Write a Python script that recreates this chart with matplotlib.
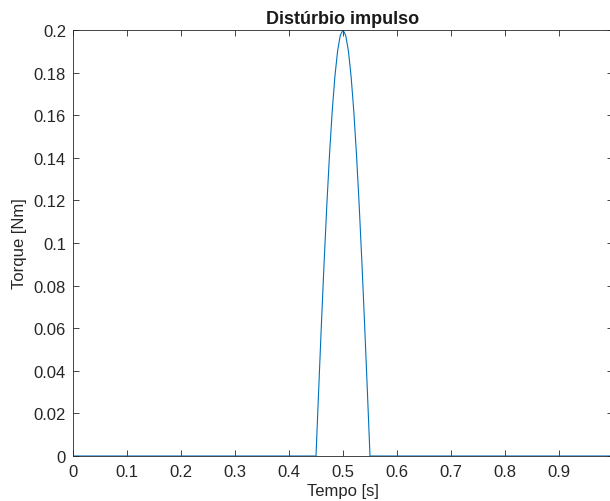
import matplotlib.pyplot as plt

# pulse disturbance (half-sine between 0.45 and 0.55 s)
tempo = [0.0, 0.45, 0.455, 0.46, 0.465, 0.47, 0.475, 0.48, 0.485, 0.49, 0.495, 0.5,
         0.505, 0.51, 0.515, 0.52, 0.525, 0.53, 0.535, 0.54, 0.545, 0.55, 1.0]
torque = [0.0, 0.0, 0.0313, 0.0618, 0.0908, 0.1176, 0.1414, 0.1618, 0.1782, 0.1902, 0.1975, 0.2,
          0.1975, 0.1902, 0.1782, 0.1618, 0.1414, 0.1176, 0.0908, 0.0618, 0.0313, 0.0, 0.0]

x_ticks = [0, 0.1, 0.2, 0.3, 0.4, 0.5, 0.6, 0.7, 0.8, 0.9]
y_ticks = [0, 0.02, 0.04, 0.06, 0.08, 0.1, 0.12, 0.14, 0.16, 0.18, 0.2]

plt.rcParams['font.family'] = ['Liberation Sans', 'DejaVu Sans']
axis_color = '#262626'

fig = plt.figure(figsize=(6.1, 5.02), dpi=100)
ax = fig.add_axes([73 / 610, 45 / 502, 540 / 610, 426 / 502])
ax.plot(tempo, torque, color='#0072BD', linewidth=0.8)

ax.set_xlim(0, 1)
ax.set_ylim(0, 0.2)
ax.set_xticks(x_ticks)
ax.set_xticklabels(['0' if v == 0 else f'{v:g}' for v in x_ticks])
ax.set_yticks(y_ticks)
ax.set_yticklabels(['0' if v == 0 else f'{v:g}' for v in y_ticks])
ax.tick_params(direction='in', top=True, right=True, length=4, width=0.6,
               colors=axis_color, labelsize=12)
ax.tick_params(axis='x', pad=6)
ax.tick_params(axis='y', pad=5)
for s in ax.spines.values():
    s.set_color(axis_color)
    s.set_linewidth(0.6)

ax.set_title('Distúrbio impulso', fontsize=13, fontweight='bold', color='#1a1a1a', pad=5)
ax.set_xlabel('Tempo [s]', fontsize=12, color=axis_color, labelpad=3)
ax.set_ylabel('Torque [Nm]', fontsize=12, color=axis_color, labelpad=5)

fig.savefig('out.png', dpi=100)
